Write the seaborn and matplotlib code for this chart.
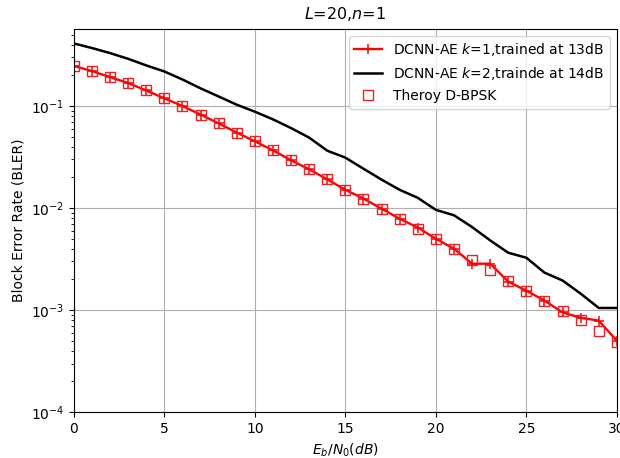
import numpy as np
import pandas as pd
import matplotlib
matplotlib.use("Agg")
import matplotlib.pyplot as plt
import seaborn as sns

snr = list(range(0, 31))

# DCNN-AE k=1, trained at 13dB
bler_k1 = [0.247, 0.220, 0.192, 0.168, 0.142, 0.119, 0.100, 0.0824, 0.0676, 0.0549,
           0.0451, 0.0368, 0.0294, 0.0240, 0.0191, 0.0151, 0.0124, 0.00986, 0.00787, 0.00645,
           0.0050, 0.0040, 0.00285, 0.00285, 0.0019, 0.00155, 0.00124, 0.00095, 0.00084, 0.00079,
           0.00050]

# DCNN-AE k=2, trained at 14dB
bler_k2 = [0.41, 0.37, 0.33, 0.29, 0.25, 0.218, 0.182, 0.149, 0.124, 0.103,
           0.088, 0.074, 0.0608, 0.0490, 0.0365, 0.0312, 0.0243, 0.019, 0.0151, 0.0126,
           0.0096, 0.0085, 0.00652, 0.00482, 0.00365, 0.00326, 0.00233, 0.00195, 0.00145, 0.00105,
           0.00105]

# theory D-BPSK
bler_theory = [0.247, 0.220, 0.192, 0.168, 0.142, 0.119, 0.100, 0.0824, 0.0676, 0.0549,
               0.0451, 0.0368, 0.0294, 0.0240, 0.0191, 0.0151, 0.0124, 0.00986, 0.00787, 0.0063,
               0.0050, 0.0040, 0.0031, 0.0025, 0.00195, 0.00155, 0.00124, 0.00099, 0.00080, 0.00063,
               0.00049]

df = pd.DataFrame({"snr": snr, "k1": bler_k1, "k2": bler_k2, "theory": bler_theory})

fig = plt.figure(figsize=(6.2, 4.58), dpi=100)
ax = fig.add_axes([0.119, 0.10, 0.876, 0.837])

sns.lineplot(data=df, x="snr", y="k1", ax=ax, color="red", marker="+", markersize=6.5,
             markeredgecolor="red", markeredgewidth=1.1, linewidth=1.7,
             label="DCNN-AE $k$=1,trained at 13dB")
sns.lineplot(data=df, x="snr", y="k2", ax=ax, color="black", linewidth=1.8,
             label="DCNN-AE $k$=2,trainde at 14dB")
ax.plot(df["snr"], df["theory"], linestyle="none", marker="s", markersize=7,
        markerfacecolor="none", markeredgecolor="#e8202a", markeredgewidth=1.0,
        label="Theroy D-BPSK")

ax.set_yscale("log")
ax.set_xlim(0, 30)
ax.set_ylim(1e-4, 0.57)
ax.grid(True, color="#b0b0b0", linewidth=0.8)
ax.set_axisbelow(True)
ax.set_title("$L$=20,$n$=1", fontsize=11.5, pad=7)
ax.set_xlabel("$E_b/N_0(dB)$", fontsize=10)
ax.set_ylabel("Block Error Rate (BLER)", fontsize=10)
ax.legend(loc="upper right", fontsize=10, framealpha=0.8)

fig.savefig("out.png", dpi=100)
